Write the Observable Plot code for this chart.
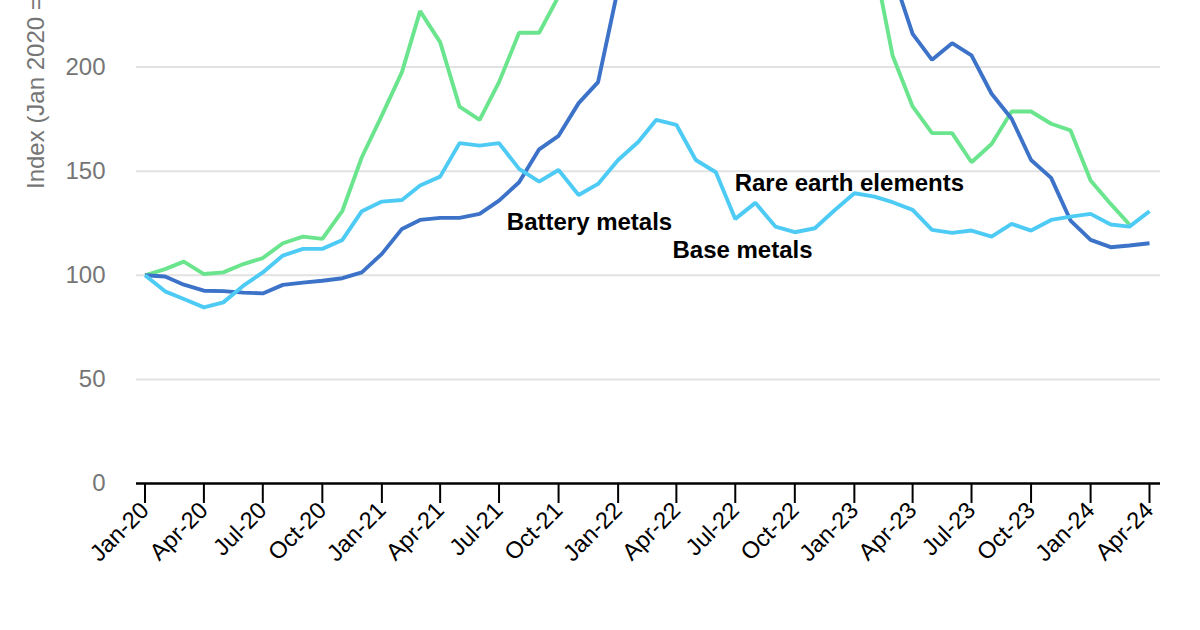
<!DOCTYPE html>
<html>
<head>
<meta charset="utf-8">
<script src="https://cdn.jsdelivr.net/npm/d3@7"></script>
<script src="https://cdn.jsdelivr.net/npm/@observablehq/plot@0.6"></script>
<style>
  html, body { margin: 0; padding: 0; background: white; }
  #chart { width: 1200px; height: 630px; overflow: hidden; }
</style>
</head>
<body>
<div id="chart"></div>
<script>
// Monthly observations, Jan 2020 .. Apr 2024
const months = d3.utcMonths(new Date(Date.UTC(2020, 0, 1)), new Date(Date.UTC(2024, 4, 1)));

const seriesNames = ["Rare earth elements", "Battery metals", "Base metals"];
const seriesColors = ["#6ae58e", "#3c73c8", "#4ecbf4"];

const rareEarth = [100, 103, 106.6, 100.6, 101.4, 105.4, 108.3, 115.4, 118.6, 117.5, 131, 156.7,
  176.8, 197.6, 226.9, 212, 181, 174.7, 192.8, 216.5, 216.5, 234, 265, 285,
  300, 320, 335, 315, 290, 275, 265, 270, 275, 270, 272, 278,
  270, 250, 205.6, 181.1, 168.3, 168.3, 154.3, 163.1, 178.7, 178.7, 172.8, 169.6,
  145.5, 134.3, 124.4, null];

const batteryMetals = [100, 99.4, 95.5, 92.6, 92.4, 91.7, 91.3, 95.4, 96.5, 97.4, 98.6, 101.4,
  110.3, 122.3, 126.6, 127.6, 127.6, 129.5, 135.9, 144.7, 160.5, 167, 182.7, 192.8,
  238, 280, 330, 345, 330, 310, 300, 305, 320, 335, 345, 330,
  300, 270, 245, 216, 203.5, 211.5, 205.6, 187.2, 175.2, 155.4, 146.8, 126.3,
  117, 113.5, 114.3, 115.4];

const baseMetals = [100, 92.3, 88.6, 84.6, 87, 95, 101.4, 109.5, 112.7, 112.7, 117, 130.8,
  135.4, 136.2, 143.1, 147.4, 163.5, 162.3, 163.5, 151.1, 145, 150.6, 138.6, 143.9,
  155.4, 164, 174.7, 172.3, 155.4, 149.5, 127.1, 134.8, 123.4, 120.7, 122.6, 131.1,
  139.4, 137.8, 135.1, 131.4, 121.8, 120.4, 121.5, 118.6, 124.7, 121.5, 126.6, 128.2,
  129.5, 124.4, 123.4, 130.8];

const yTicks = [0, 50, 100, 150, 200];
const gridValues = [50, 100, 150, 200];
const xTicks = d3.utcMonth.every(3).range(new Date(Date.UTC(2020, 0, 1)), new Date(Date.UTC(2024, 4, 1)));
const yLabel = "Index (Jan 2020 = 100)";

// Direct labels (annotation anchor: date, index value)
const labelNames = ["Battery metals", "Base metals", "Rare earth elements"];
const labelDates = [new Date(Date.UTC(2021, 6, 13)), new Date(Date.UTC(2022, 2, 26)), new Date(Date.UTC(2022, 5, 30))];
const labelValues = [125.5, 112, 144.2];

const valuesBySeries = [rareEarth, batteryMetals, baseMetals];
const drawOrder = [0, 1, 2];
const data = drawOrder.flatMap(s => months.map((m, i) => ({date: m, value: valuesBySeries[s][i], series: seriesNames[s]})));
const labels = labelNames.map((t, i) => ({text: t, date: labelDates[i], value: labelValues[i]}));

const W = 1200, H = 630;
const chart = Plot.plot({
  width: W,
  height: H,
  marginLeft: 136,
  marginRight: 40,
  marginTop: 0,
  marginBottom: 147,
  style: {fontFamily: "'Liberation Sans', Arial, sans-serif", fontSize: "24px", background: "white", overflow: "hidden"},
  x: {type: "utc", domain: [months[0], months[months.length - 1]], range: [144.5, 1149]},
  y: {domain: [0, 232]},
  color: {domain: seriesNames, range: seriesColors},
  marks: [
    Plot.ruleY(gridValues, {stroke: "#e2e2e2", strokeWidth: 2}),
    Plot.line(data, {x: "date", y: "value", z: "series", stroke: "series", strokeWidth: 3.9, clip: true, defined: d => d.value != null, strokeLinejoin: "miter", strokeLinecap: "butt"}),
    Plot.ruleY([0], {stroke: "black", strokeWidth: 2.6}),
    Plot.axisY({ticks: yTicks, tickSize: 0, tickPadding: 31, fontSize: 24, color: "#757575", label: null}),
    Plot.axisX({ticks: xTicks, tickFormat: d3.utcFormat("%b-%y"), tickRotate: -45, tickSize: 20, tickPadding: 3, fontSize: 23.5, stroke: "black", strokeWidth: 2, fill: "black", label: null}),
    Plot.text([yLabel], {frameAnchor: "left", rotate: -90, textAnchor: "start", dx: -100, dy: -53, fontSize: 24, fill: "#757575"}),
    Plot.text(labels, {x: "date", y: "value", text: "text", textAnchor: "start", fontSize: 24, fontWeight: "bold", fill: "black"})
  ]
});
document.getElementById("chart").appendChild(chart);
</script>
</body>
</html>
